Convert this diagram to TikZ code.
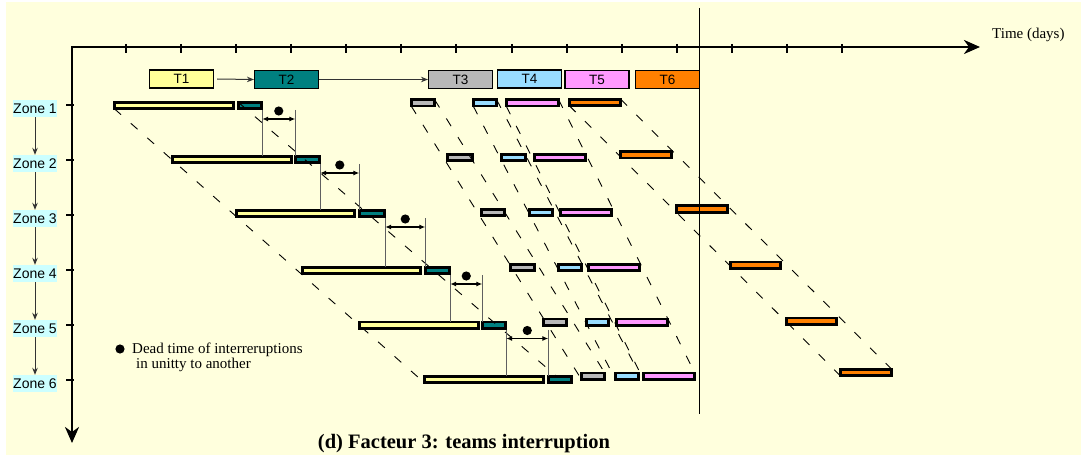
\documentclass[tikz,border=0pt]{standalone}
\usepackage{fontspec}
\setmainfont{Liberation Serif}
\newfontfamily\arialf{Liberation Sans}
\usetikzlibrary{arrows.meta,calc}

\definecolor{paper}{HTML}{FFFFDD}
\definecolor{zonebg}{HTML}{CCFFFF}
\definecolor{cA}{HTML}{FFFF99}
\definecolor{cB}{HTML}{008080}
\definecolor{cC}{HTML}{B8B8B8}
\definecolor{cD}{HTML}{99DDFF}
\definecolor{cE}{HTML}{FF99FF}
\definecolor{cF}{HTML}{FF8000}
\definecolor{darkline}{HTML}{333333}
\definecolor{dimgrey}{HTML}{606060}

\tikzset{
  axis/.style={line width=2.6pt, line join=miter,
    {Stealth[length=16pt,width=14pt,inset=5pt]}-{Stealth[length=16pt,width=14pt,inset=5pt]}},
  axtick/.style={line width=2pt},
  zonelabel/.style={fill=zonebg, inner sep=0pt, minimum width=44pt, minimum height=17pt,
    font=\arialf\fontsize{14}{15}\selectfont},
  zonearrow/.style={darkline, line width=1pt, -{Stealth[length=7pt,width=5.5pt]}},
  tbox/.style={draw=black, line width=1.1pt, inner sep=0pt, minimum width=64pt,
    minimum height=18pt, font=\arialf\fontsize{13.5}{14}\selectfont},
  tarrow/.style={darkline, line width=1pt, -{Stealth[length=7pt,width=5.5pt]}},
  barbox/.style={draw=black, line width=2.6pt, inner sep=0pt, outer sep=0pt,
    minimum height=6.4pt},
  dashline/.style={black, line width=0.9pt, dash pattern=on 9pt off 13pt},
  dimline/.style={dimgrey, line width=1pt},
  dimarrow/.style={black, line width=1.2pt,
    {Latex[length=6pt,width=5pt]}-{Latex[length=6pt,width=5pt]}},
}

% one task bar: name, colour, left x, right x, centre y
\newcommand\taskbar[5]{\node[barbox, fill=#2, minimum width={#4-#3-2.6}] (#1) at ({(#3+#4)/2},#5) {};}

% dead-time marker between the T2 bar of zone #1 and the one of zone #2
\newcommand\deadtime[2]{%
  \coordinate (dl#1) at ($(b2-#1.south east)+(0.5,1.3)$);
  \coordinate (dr#1) at (dl#1 -| b2-#2.west);
  \draw[dimline] (dl#1) -- (dl#1 |- b1-#2.north);
  \draw[dimline] (dr#1) -- (b2-#2.north west);
  \draw[dimarrow] ($(dl#1)+(0,9)$) -- ($(dr#1)+(0,9)$);
  \fill ($(dl#1)!0.5!(dr#1)+(0,1)$) circle (4.6);
}

\begin{document}
\begin{tikzpicture}[x=1pt,y=-1pt]
\useasboundingbox (0,0) rectangle (1081,457);
\fill[paper] (6,2) rectangle (1081,455);

% time / zone axes
\coordinate (origin) at (72,47);
\coordinate (tend) at (980,47);
\coordinate (zend) at (72,443);
\draw[axis] (zend) |- (tend);
\foreach \i in {0,...,13} \draw[axtick] ({126+55.08*\i},44) -- ++(0,9);
\foreach \z in {1,...,6} \draw[axtick] (66,{50+55*\z}) -- (74,{50+55*\z});

\node[anchor=west, inner sep=0pt, font=\fontsize{15}{16}\selectfont] (tlabel) at (992,35) {Time (days)};

% zone labels
\foreach \z in {1,...,6} \node[zonelabel] (z\z) at (35,{53.5+55*\z}) {Zone \z};
\foreach \a/\b in {1/2,2/3,3/4,4/5,5/6} \draw[zonearrow] (z\a.south) -- (z\b.north);

% task boxes
\node[tbox, fill=cA] (T1) at (181.5,79) {T1};
\node[tbox, fill=cB] (T2) at (286.5,79.5) {T2};
\node[tbox, fill=cC] (T3) at (460.5,79.5) {T3};
\node[tbox, fill=cD] (T4) at (529.5,79) {T4};
\node[tbox, fill=cE] (T5) at (597,79.5) {T5};
\node[tbox, fill=cF] (T6) at (667.5,79.5) {T6};
\draw[tarrow] ([xshift=3pt]T1.east) -- (T2.west);
\draw[tarrow] (T2.east) -- (T3.west);

% deadline
\coordinate (vtop) at (699,8);
\coordinate (vbot) at (699,414);

% T1
\taskbar{b1-1}{cA}{113}{235}{105.5}
\taskbar{b1-2}{cA}{171}{293}{159.5}
\taskbar{b1-3}{cA}{235}{356}{213.5}
\taskbar{b1-4}{cA}{301}{422}{270.5}
\taskbar{b1-5}{cA}{358}{480}{325}
\taskbar{b1-6}{cA}{423}{545}{379.5}
% T2
\taskbar{b2-1}{cB}{237}{263}{105.5}
\taskbar{b2-2}{cB}{294}{321}{159.5}
\taskbar{b2-3}{cB}{358}{386}{213.5}
\taskbar{b2-4}{cB}{424}{451}{270.5}
\taskbar{b2-5}{cB}{481}{507}{325}
\taskbar{b2-6}{cB}{547}{573}{379.5}
% T3
\taskbar{b3-1}{cC}{410}{436}{103}
\taskbar{b3-2}{cC}{446}{474}{157.5}
\taskbar{b3-3}{cC}{480}{506}{212.5}
\taskbar{b3-4}{cC}{509}{536}{267.5}
\taskbar{b3-5}{cC}{542}{568}{322}
\taskbar{b3-6}{cC}{580}{606}{376}
% T4
\taskbar{b4-1}{cD}{472}{498}{103}
\taskbar{b4-2}{cD}{500}{527}{157.5}
\taskbar{b4-3}{cD}{528}{554}{212.5}
\taskbar{b4-4}{cD}{557}{583}{267.5}
\taskbar{b4-5}{cD}{585}{610}{322}
\taskbar{b4-6}{cD}{614}{640}{376}
% T5
\taskbar{b5-1}{cE}{505}{560}{103}
\taskbar{b5-2}{cE}{533}{587}{157.5}
\taskbar{b5-3}{cE}{559}{613}{212.5}
\taskbar{b5-4}{cE}{587}{641}{267.5}
\taskbar{b5-5}{cE}{615}{669}{322}
\taskbar{b5-6}{cE}{642}{696}{376}
% T6
\taskbar{b6-1}{cF}{568}{622}{102.5}
\taskbar{b6-2}{cF}{619}{673}{155}
\taskbar{b6-3}{cF}{675}{729}{209}
\taskbar{b6-4}{cF}{729}{782}{265}
\taskbar{b6-5}{cF}{785}{838}{321}
\taskbar{b6-6}{cF}{839}{893}{372.5}

% propagation of each task from zone 1 to zone 6
\draw[dashline] (b1-1.south west) -- (b1-6.south west);
\draw[dashline] (b2-1.north west) -- ($(b2-6.north west)!0.35!(b2-6.north east)$);
\foreach \t in {3,...,6} {
  \draw[dashline] (b\t-1.south west) -- (b\t-6.south west);
  \draw[dashline] (b\t-1.north east) -- (b\t-6.north east);
}

\draw[black, line width=1pt] (vtop) -- (vbot);

% dead times between zones
\deadtime{1}{2}
\deadtime{2}{3}
\deadtime{3}{4}
\deadtime{4}{5}
\deadtime{5}{6}

% legend
\fill (120,349) circle (4.6);
\node[anchor=north west, inner sep=0pt, align=left, font=\fontsize{15}{13}\selectfont] (legend) at (132,343)
  {Dead time of interreruptions\\\hspace*{4pt}in unitty to another};

% caption
\node[anchor=base, inner sep=0pt, font=\bfseries\fontsize{20.5}{24}\selectfont] (caption) at (464,448)
  {(d) Facteur 3: teams interruption};
\end{tikzpicture}
\end{document}
